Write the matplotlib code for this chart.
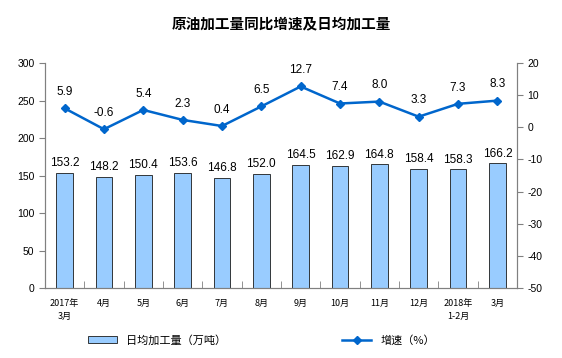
import numpy as np
import matplotlib.pyplot as plt

plt.rcParams['font.family'] = ['Noto Sans CJK SC', 'DejaVu Sans']
plt.rcParams['axes.unicode_minus'] = False

# data
months = ['2017年\n3月', '4月', '5月', '6月', '7月', '8月', '9月', '10月',
          '11月', '12月', '2018年\n1-2月', '3月']
output = [153.2, 148.2, 150.4, 153.6, 146.8, 152.0, 164.5, 162.9,
          164.8, 158.4, 158.3, 166.2]
growth = [5.9, -0.6, 5.4, 2.3, 0.4, 6.5, 12.7, 7.4, 8.0, 3.3, 7.3, 8.3]

fig = plt.figure(figsize=(5.62, 3.58), dpi=100)
ax = fig.add_axes([0.080, 0.1955, 0.840, 0.6285])
ax2 = ax.twinx()

x = np.arange(len(months))
bars = ax.bar(x, output, width=0.42, color='#99CCFF', edgecolor='#1a1a1a',
              linewidth=0.6, label='日均加工量（万吨）', zorder=2)
for xi, v in zip(x, output):
    ax.text(xi, v + 5, f'{v:.1f}', ha='center', va='bottom', fontsize=8.5,
            family='Liberation Sans')

ax.set_xlim(-0.5, len(months) - 0.5)
ax.set_ylim(0, 300)
ax.set_yticks(np.arange(0, 301, 50))
ax.set_xticks(x)
ax.set_xticklabels(months, fontsize=6.5, linespacing=1.6)
ax.set_xticks(np.arange(-0.5, len(months), 1), minor=True)
ax.tick_params(axis='x', which='major', length=0, pad=8)
ax.tick_params(axis='x', which='minor', length=5, direction='in', color='#808080')
ax.tick_params(axis='y', labelsize=7.5, length=4, color='#808080')
for lbl in ax.get_yticklabels():
    lbl.set_family('Liberation Sans')

ax2.plot(x, growth, color='#0066CC', linewidth=1.8, marker='D', markersize=4.5,
         label='增速（%）', zorder=3)
for xi, v in zip(x, growth):
    ax2.text(xi, v + 3.2, f'{v:.1f}', ha='center', va='bottom', fontsize=8.5,
             family='Liberation Sans')
ax2.set_ylim(-50, 20)
ax2.set_yticks(np.arange(-50, 21, 10))
ax2.tick_params(axis='y', labelsize=7.5, length=4, color='#808080')
for lbl in ax2.get_yticklabels():
    lbl.set_family('Liberation Sans')

for a in (ax, ax2):
    a.spines['top'].set_visible(False)
    for s in ('left', 'right', 'bottom'):
        a.spines[s].set_color('#808080')
        a.spines[s].set_linewidth(0.8)

fig.text(0.5, 0.935, '原油加工量同比增速及日均加工量', ha='center', va='center',
         fontsize=10.5, fontweight='bold')

h1, l1 = ax.get_legend_handles_labels()
h2, l2 = ax2.get_legend_handles_labels()
fig.legend(h1 + h2, l1 + l2, loc='center', bbox_to_anchor=(0.465, 0.05),
           ncol=2, frameon=False, fontsize=8, columnspacing=10.5,
           handlelength=2.6)

fig.savefig('out.png', dpi=100)
